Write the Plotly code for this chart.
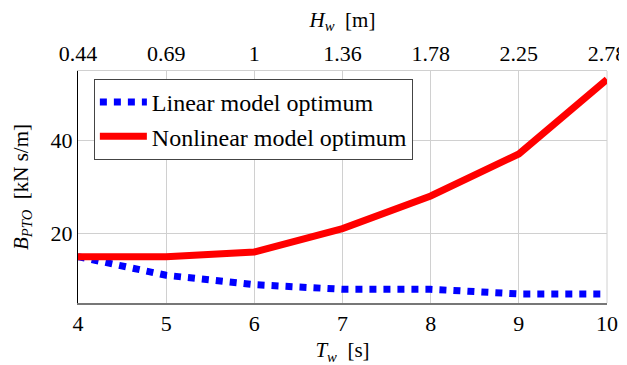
import plotly.graph_objects as go

T_w = [4, 5, 6, 7, 8, 9, 10]
H_w_labels = ["0.44", "0.69", "1", "1.36", "1.78", "2.25", "2.78"]
linear_opt = [15, 11, 9, 8, 8, 7, 7]
nonlinear_opt = [15, 15, 16, 21, 28, 37, 53]
y_ticks = [20, 40]

FONT = "Liberation Serif"
TICK = 22
TITLE = 21
SP = "\u2002"

fig = go.Figure()
fig.add_trace(go.Scatter(x=T_w, y=linear_opt, mode="lines", name="Linear model optimum",
                         line=dict(color="#0000ff", width=7, dash="dot")))
fig.add_trace(go.Scatter(x=T_w, y=nonlinear_opt, mode="lines", name="Nonlinear model optimum",
                         line=dict(color="#ff0000", width=7)))
# invisible trace to activate top axis
fig.add_trace(go.Scatter(x=T_w, y=linear_opt, xaxis="x2", mode="lines",
                         line=dict(width=0), showlegend=False, hoverinfo="skip", opacity=0))

# page body adds an 8px margin, so the figure is sized/offset to compensate
fig.update_layout(
    width=619, height=357,
    margin=dict(l=70, r=20, t=63, b=62, pad=0),
    plot_bgcolor="white", paper_bgcolor="white",
    font=dict(family=FONT, size=TICK, color="black"),
    showlegend=True,
    legend=dict(x=0.030, y=0.966, xanchor="left", yanchor="top",
                bgcolor="white", bordercolor="#444", borderwidth=1,
                font=dict(family=FONT, size=24), tracegroupgap=0,
                itemwidth=47),
    xaxis=dict(range=[4, 10], tickvals=T_w, ticktext=[str(v) for v in T_w],
               showgrid=True, gridcolor="#d0d0d0", gridwidth=1,
               showline=True, linecolor="#777", linewidth=2, mirror=False,
               ticks="", zeroline=False, automargin=False,
               tickfont=dict(family=FONT, size=TICK),
               title=dict(text="<i>T</i><sub><i>w</i></sub>" + SP + "[s]", standoff=7,
                          font=dict(family=FONT, size=TITLE))),
    xaxis2=dict(range=[4, 10], overlaying="x", side="top", tickvals=T_w,
                ticktext=H_w_labels, showgrid=False, showline=True,
                linecolor="#d0d0d0", linewidth=1, ticks="", zeroline=False,
                automargin=False, tickfont=dict(family=FONT, size=TICK),
                title=dict(text="<i>H</i><sub><i>w</i></sub>" + SP + "[m]", standoff=10,
                           font=dict(family=FONT, size=TITLE))),
    yaxis=dict(range=[5.06, 54.8], tickvals=y_ticks,
               showgrid=True, gridcolor="#d0d0d0", gridwidth=1,
               showline=True, linecolor="black", linewidth=1,
               ticks="", zeroline=False, automargin=False,
               tickfont=dict(family=FONT, size=TICK),
               title=dict(text="<i>B</i><sub><i>PTO</i></sub>" + SP + "[kN s/m]", standoff=16,
                          font=dict(family=FONT, size=TITLE))),
)
# right frame line
fig.add_shape(type="line", xref="paper", yref="paper", x0=1, x1=1, y0=0, y1=1,
              line=dict(color="#d0d0d0", width=1), layer="below")

fig.write_html("out.html")
